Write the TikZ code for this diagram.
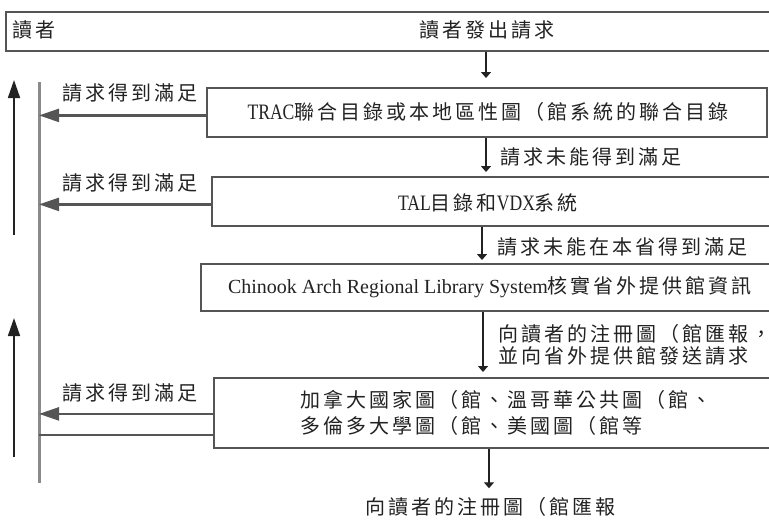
\documentclass[tikz,border=0pt]{standalone}
\usepackage{fontspec}
\setmainfont{Liberation Serif}
\newfontfamily\cjk[LetterSpace=15]{Noto Sans CJK TC}
\newfontfamily\latcond[FakeStretch=0.8]{Liberation Serif}
\newfontfamily\latreg{Liberation Serif}
\newcommand\ltc[1]{{\latcond\fontsize{22}{23}\selectfont #1}}
\newcommand\ltr[1]{{\latreg\fontsize{20}{23}\selectfont #1}}
\usetikzlibrary{arrows.meta}
\definecolor{boxline}{HTML}{555555}
\definecolor{spinegray}{HTML}{8A8A8A}
\definecolor{ink}{HTML}{222222}
\begin{document}
\begin{tikzpicture}[x=1pt,y=-1pt,
  box/.style={draw=boxline, line width=1.8pt, anchor=north west, inner sep=0pt, fill=none},
  txt/.style={text=ink, inner sep=0pt, font=\cjk\fontsize{20}{23}\selectfont},
  downarrow/.style={draw=ink, line width=1.4pt, -{Triangle[length=6pt,width=10pt]}},
  leftarrow/.style={draw=boxline, line width=2.4pt, -{Triangle[length=20pt,width=13pt]}},
  uparrow/.style={draw=ink, line width=1.6pt, -{Triangle[length=18pt,width=12pt]}},
  spine/.style={draw=spinegray, line width=3pt},
  plainline/.style={draw=boxline, line width=2pt}]
\useasboundingbox (0,0) rectangle (769,520);
\clip (0,0) rectangle (769,520);

% boxes
\node[box, minimum width=780pt, minimum height=39pt] (top) at (5,11) {};
\node[box, minimum width=560pt, minimum height=49pt] (b1) at (206,87) {};
\node[box, minimum width=570pt, minimum height=49pt] (b2) at (211,176) {};
\node[box, minimum width=580pt, minimum height=47pt] (b3) at (200,263) {};
\node[box, minimum width=570pt, minimum height=70pt] (b4) at (213,377) {};

% box texts
\node[txt, anchor=west] (reader) at (12,30) {讀者};
\node[txt] (request) at (487,30) {讀者發出請求};
\node[txt] (t1) at (488,112) {\ltc{TRAC}聯合目錄或本地區性圖（館系統的聯合目錄};
\node[txt] (t2) at (488,203) {\ltc{TAL}目錄和\ltc{VDX}系統};
\node[txt] (t3) at (490,287) {\ltr{Chinook Arch Regional Library System}核實省外提供館資訊};
\node[txt, anchor=west, align=left, font=\cjk\fontsize{20}{26}\selectfont] (t4) at (300,413)
  {加拿大國家圖（館、溫哥華公共圖（館、\\多倫多大學圖（館、美國圖（館等};
\node[txt] (bot) at (490,507) {向讀者的注冊圖（館匯報};

% right-side labels
\node[txt, anchor=west] (l1) at (500,157) {請求未能得到滿足};
\node[txt, anchor=west] (l2) at (497,247) {請求未能在本省得到滿足};
\node[txt, anchor=west, align=left, font=\cjk\fontsize{20}{22}\selectfont] (l3) at (498,345)
  {向讀者的注冊圖（館匯報，\\並向省外提供館發送請求};

% left labels
\node[txt, anchor=west] (s1) at (62,93) {請求得到滿足};
\node[txt, anchor=west] (s2) at (62,183) {請求得到滿足};
\node[txt, anchor=west] (s3) at (62,393) {請求得到滿足};

% columns for down arrows
\coordinate (ca) at (486,0);
\coordinate (cb) at (482,0);
\coordinate (cc) at (483,0);
\coordinate (cd) at (489,0);

\draw[downarrow, shorten >=9pt] (top.south -| ca) -- (b1.north -| ca);
\draw[downarrow, shorten >=4pt] (b1.south -| ca) -- (b2.north -| ca);
\draw[downarrow, shorten >=3pt] (b2.south -| cb) -- (b3.north -| cb);
\draw[downarrow, shorten >=5pt] (b3.south -| cc) -- (b4.north -| cc);
\draw[downarrow, shorten >=9pt] (b4.south -| cd) -- (bot.north -| cd);

% spine
\coordinate (sT) at (39,82);
\coordinate (sB) at (39,483);
\draw[spine] (sT) -- (sB);

% left arrows
\draw[leftarrow] ([yshift=-3pt]b1.west) -- ([yshift=-3pt]b1.west -| sT);
\draw[leftarrow] ([yshift=-3pt]b2.west) -- ([yshift=-3pt]b2.west -| sT);
\draw[leftarrow] ([yshift=-1pt]b4.west) -- ([yshift=-1pt]b4.west -| sT);
\draw[plainline] ([yshift=-22pt]b4.west) -- ([yshift=-22pt]b4.west -| sT);

% outer up arrows
\coordinate (u1a) at (14,235);
\coordinate (u1b) at (14,80);
\coordinate (u2a) at (14,457);
\coordinate (u2b) at (14,318);
\draw[uparrow] (u1a) -- (u1b);
\draw[uparrow] (u2a) -- (u2b);
\end{tikzpicture}
\end{document}
